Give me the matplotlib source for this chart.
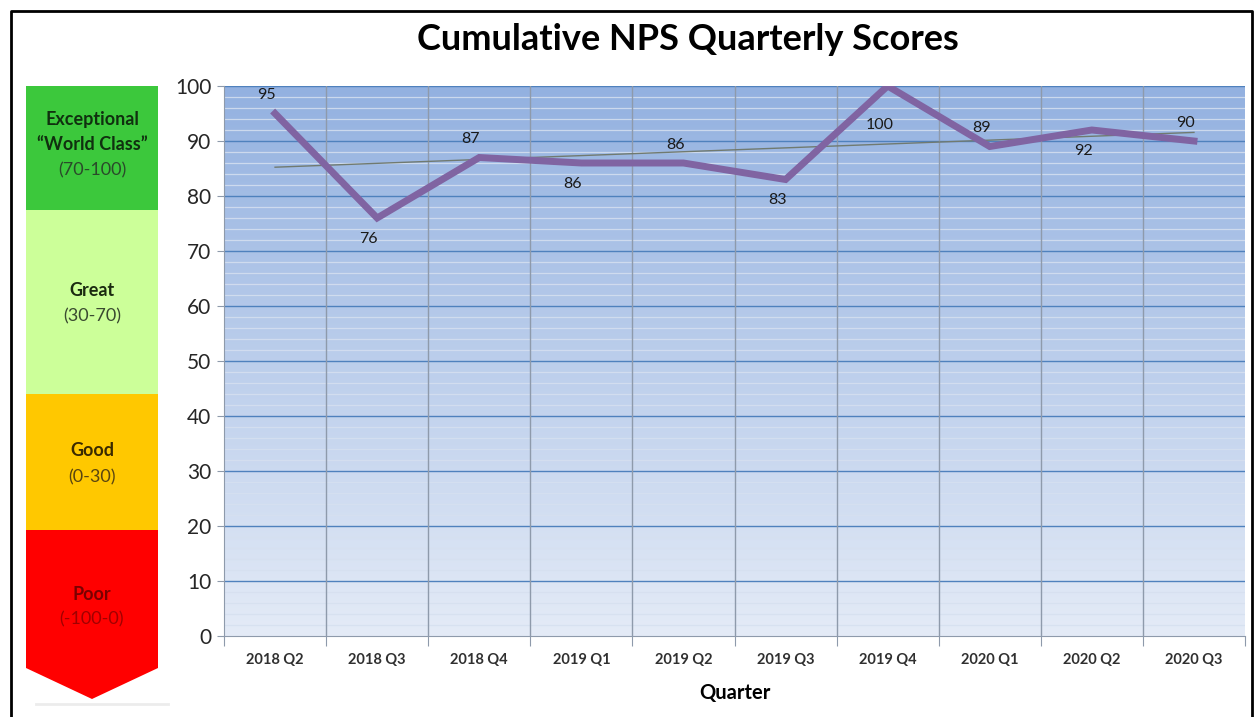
import matplotlib
matplotlib.use("Agg")
import matplotlib.pyplot as plt
import numpy as np
from matplotlib.patches import Polygon, Rectangle
from matplotlib.colors import LinearSegmentedColormap

plt.rcParams["font.family"] = ["Lato", "DejaVu Sans"]

quarters = ["2018 Q2", "2018 Q3", "2018 Q4", "2019 Q1", "2019 Q2",
            "2019 Q3", "2019 Q4", "2020 Q1", "2020 Q2", "2020 Q3"]
scores = [95, 76, 87, 86, 86, 83, 100, 89, 92, 90]
label_side = ["above", "below", "above", "below", "above",
              "below", "below", "above", "below", "above"]

# legend band: (top, bottom) in pixels, colour, bold line(s), range text
band_tops = [86, 210, 394, 530]
band_bottoms = [210, 394, 530, 668]
band_colors = ["#3cc83c", "#ccff99", "#ffc800", "#ff0000"]
band_names = [["Exceptional", "\u201cWorld Class\u201d"], ["Great"], ["Good"], ["Poor"]]
band_ranges = ["(70-100)", "(30-70)", "(0-30)", "(-100-0)"]
band_text_y = [[119, 145, 170], [290, 316], [451, 477], [594, 619]]

W, H = 1258, 717
fig = plt.figure(figsize=(W / 100, H / 100), dpi=100)

# outer frame
frame = fig.add_axes([0, 0, 1, 1])
frame.set_xlim(0, W)
frame.set_ylim(H, 0)
frame.axis("off")
frame.plot([11, 11, 1252, 1252], [H + 5, 11, 11, H + 5], color="black", lw=2)

# title
fig.text(688 / W, 1 - 39 / H, "Cumulative NPS Quarterly Scores",
         ha="center", va="center", fontsize=26, fontweight="bold")

# left legend band drawn in pixel coordinates
x0, x1 = 26, 158
for top, bot, col in zip(band_tops, band_bottoms, band_colors):
    frame.add_patch(Rectangle((x0, top), x1 - x0, bot - top, color=col, lw=0))
frame.add_patch(Polygon([[x0, 668], [x1, 668], [(x0 + x1) / 2, 699]],
                        closed=True, color=band_colors[-1], lw=0))
frame.plot([x0 + 10, x1 + 10], [704, 704], color="#ececec", lw=2)

name_colors = ["#10300f", "#1a2a10", "#3a2a00", "#7a0000"]
range_colors = ["#2a4a2a", "#3a4a30", "#5a4510", "#a00000"]
cx = (x0 + x1) / 2
for names, rng, ys, nc, rc in zip(band_names, band_ranges, band_text_y,
                                  name_colors, range_colors):
    for nm, yy in zip(names, ys):
        frame.text(cx, yy, nm, ha="center", va="center", fontsize=13,
                   fontweight="bold", color=nc)
    frame.text(cx, ys[-1], rng, ha="center", va="center", fontsize=13,
               color=rc)

# main chart
ax = fig.add_axes([224 / W, 1 - 636 / H, (1245 - 224) / W, (636 - 86) / H])
x = np.arange(len(quarters))
ax.set_xlim(-0.5, len(quarters) - 0.5)
ax.set_ylim(0, 100)

grad = LinearSegmentedColormap.from_list("bg", ["#e4ebf7", "#93b1e0"])
ax.imshow(np.linspace(0, 1, 256).reshape(-1, 1), cmap=grad, aspect="auto",
          extent=[-0.5, len(quarters) - 0.5, 0, 100], origin="lower", zorder=0)

for yv in np.arange(2, 100, 2):
    if yv % 10:
        ax.axhline(yv, color="#d6e0f0", lw=0.9, zorder=1, alpha=0.85)
for yv in np.arange(10, 101, 10):
    ax.axhline(yv, color="#4f81bd", lw=1.0, zorder=2)
for xv in np.arange(0.5, len(quarters) - 0.5, 1):
    ax.axvline(xv, color="#8e9aab", lw=1.0, zorder=2)

slope, icpt = np.polyfit(x, scores, 1)
ax.plot(x, slope * x + icpt, color="#707a70", lw=1.0, zorder=3)
ax.plot(x, scores, color="#8064a2", lw=5, solid_joinstyle="miter", zorder=4)

for xi, yi, side in zip(x, scores, label_side):
    dy = 13 if side == "above" else -15
    if yi == 100:
        dy = -28
    ax.annotate(str(yi), (xi, yi), xytext=(-6, dy), textcoords="offset points",
                ha="center", va="center", fontsize=11.5, color="#1a1a1a",
                zorder=5)

ax.set_yticks(np.arange(0, 101, 10))
ax.set_xticks(np.arange(-0.5, len(quarters), 1))
ax.set_xticklabels([])
ax.set_xticks(x, minor=True)
ax.set_xticklabels(quarters, minor=True)
ax.tick_params(axis="x", which="minor", length=0, pad=12, labelsize=10.5,
               labelcolor="#303030")
ax.tick_params(axis="x", which="major", length=7, color="#8e9aab")
ax.tick_params(axis="y", length=5, color="#8e9aab", labelsize=15,
               labelcolor="#262626", pad=4)
for lbl in ax.get_xticklabels(minor=True):
    lbl.set_fontweight("bold")

for side in ["top", "right"]:
    ax.spines[side].set_visible(False)
ax.spines["left"].set_color("#8e9aab")
ax.spines["bottom"].set_color("#8e9aab")

ax.set_xlabel("Quarter", fontsize=14.5, fontweight="bold", labelpad=12)

fig.savefig("out.png", dpi=100)
